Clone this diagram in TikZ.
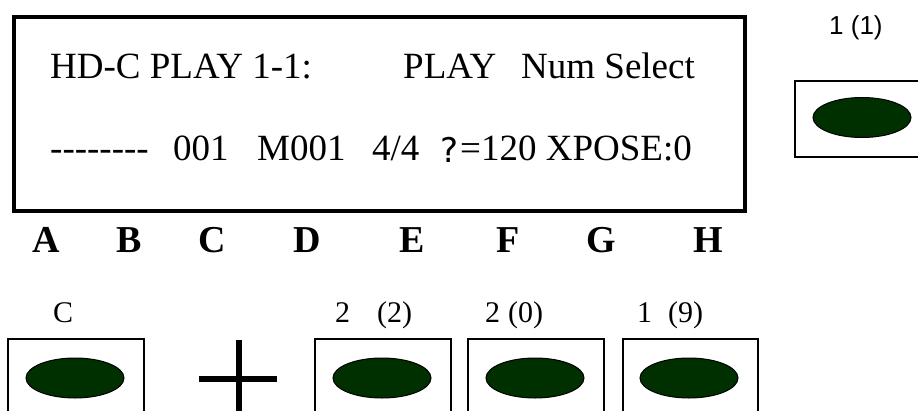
\documentclass[tikz,border=0pt]{standalone}
\usepackage{fontspec}
\setmainfont{Liberation Serif}
\newfontfamily\arialf{Liberation Sans}
\newfontfamily\qfont{DejaVu Sans}
\usetikzlibrary{shapes.geometric}
\definecolor{knobgreen}{RGB}{0,48,0}
\newcommand{\hy}{\mbox{-}}
\begin{document}
\begin{tikzpicture}[x=1pt,y=-1pt,
 lcd/.style={font=\fontsize{37}{40}\selectfont, anchor=base west, inner sep=0pt},
 keylet/.style={font=\fontsize{38}{40}\selectfont\bfseries, anchor=base, inner sep=0pt},
 lbl/.style={font=\fontsize{30}{32}\selectfont, anchor=base west, inner sep=0pt},
 btn/.style={draw=black, line width=2pt, anchor=north west, inner sep=0pt},
 knob/.style={ellipse, draw=black, line width=1pt, fill=knobgreen, minimum width=98pt, minimum height=40pt, inner sep=0pt},
 crossbar/.style={line width=6pt}]
\useasboundingbox (0,0) rectangle (918,410);
\clip (0,0) rectangle (918,410);
% LCD display
\node[draw=black, line width=3.5pt, anchor=north west, minimum width=731pt, minimum height=194pt, inner sep=0pt] (lcd) at (12,15) {};
\node[lcd] (t1) at (50,78) {HD-C PLAY 1-1:};
\node[lcd] (t2) at (403,78) {PLAY};
\node[lcd] (t3) at (521,78) {Num Select};
\node[lcd] (u1) at (50,160) {\hy\hy\hy\hy\hy\hy\hy\hy};
\node[lcd] (u2) at (173,160) {001};
\node[lcd] (u3) at (257,160) {M001};
\node[lcd] (u4) at (372,160) {4/4};
\node[anchor=base west, inner sep=0pt, font=\qfont\fontsize{34}{36}\selectfont] (u5) at (440,162) {?};
\node[lcd] (u6) at (460,160) {=120 XPOSE:0};
% column letters
\node[keylet] (kA) at (46,252) {A};
\node[keylet] (kB) at (129,252) {B};
\node[keylet] (kC) at (212,252) {C};
\node[keylet] (kD) at (307,252) {D};
\node[keylet] (kE) at (412,252) {E};
\node[keylet] (kF) at (508,252) {F};
\node[keylet] (kG) at (601,252) {G};
\node[keylet] (kH) at (708,252) {H};
% top right button
\node[anchor=base west, inner sep=0pt, font=\arialf\fontsize{26}{28}\selectfont] (l0) at (829,34) {1 (1)};
\node[btn, minimum width=136pt, minimum height=76pt] (b0) at (794,80) {};
\node[knob] (e0) at (862,117.5) {};
% bottom labels
\node[lbl] (l1) at (53,322) {C};
\node[lbl] (l2a) at (335,322) {2};
\node[lbl] (l2b) at (377,322) {(2)};
\node[lbl] (l3a) at (485,322) {2};
\node[lbl] (l3b) at (508,322) {(0)};
\node[lbl] (l4a) at (637,322) {1};
\node[lbl] (l4b) at (668,322) {(9)};
% bottom buttons
\node[btn, minimum width=136pt, minimum height=80pt] (b1) at (7,338) {};
\node[btn, minimum width=136pt, minimum height=80pt] (b2) at (314,338) {};
\node[btn, minimum width=136pt, minimum height=80pt] (b3) at (467,338) {};
\node[btn, minimum width=135pt, minimum height=80pt] (b4) at (622,338) {};
\node[knob] (e1) at (75,378) {};
\node[knob] (e2) at (382,378) {};
\node[knob] (e3) at (535,378) {};
\node[knob] (e4) at (689,378) {};
% plus sign
\coordinate (pv1) at (238.5,340);
\coordinate (pv2) at (238.5,420);
\coordinate (ph1) at (199,379);
\coordinate (ph2) at (277,379);
\draw[crossbar] (pv1) -- (pv2);
\draw[crossbar] (ph1) -- (ph2);
\end{tikzpicture}
\end{document}
